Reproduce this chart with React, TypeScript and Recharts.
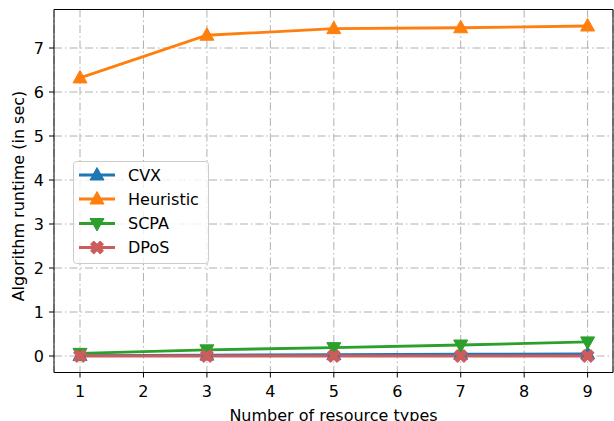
import React from 'react';
import { LineChart, Line, XAxis, YAxis, CartesianGrid, ReferenceArea } from 'recharts';

const resourceTypes = [1, 3, 5, 7, 9];
const cvx = [0.01, 0.02, 0.03, 0.04, 0.05];
const heuristic = [6.32, 7.29, 7.44, 7.46, 7.5];
const scpa = [0.06, 0.14, 0.19, 0.25, 0.32];
const dpos = [0.0, 0.0, 0.0, 0.0, 0.0];
const xTicks = [1, 2, 3, 4, 5, 6, 7, 8, 9];
const yTicks = [0, 1, 2, 3, 4, 5, 6, 7];

const series = [
  { key: 'cvx', name: 'CVX', color: '#1f77b4', marker: 'up', values: cvx },
  { key: 'heuristic', name: 'Heuristic', color: '#ff7f0e', marker: 'up', values: heuristic },
  { key: 'scpa', name: 'SCPA', color: '#2ca02c', marker: 'down', values: scpa },
  { key: 'dpos', name: 'DPoS', color: '#cd5c5c', marker: 'x', values: dpos },
];

const data = resourceTypes.map((x, i) => {
  const row: any = { x };
  series.forEach((s) => (row[s.key] = s.values[i]));
  return row;
});

const FONT = 'DejaVu Sans, sans-serif';
const FS = 16;

function markerShape(kind: string, cx: number, cy: number, color: string, k?: any) {
  if (cx == null || cy == null || isNaN(cx) || isNaN(cy)) return <g key={k} />;
  if (kind === 'up') {
    const pts = `${cx},${cy - 7.5} ${cx - 7},${cy + 5} ${cx + 7},${cy + 5}`;
    return <polygon key={k} points={pts} fill={color} stroke={color} strokeWidth={1} />;
  }
  if (kind === 'down') {
    const pts = `${cx},${cy + 7.5} ${cx - 7},${cy - 5} ${cx + 7},${cy - 5}`;
    return <polygon key={k} points={pts} fill={color} stroke={color} strokeWidth={1} />;
  }
  const a = 6, t = 2.8;
  const pts = [
    [-a, -a + t], [-a + t, -a], [0, -t], [a - t, -a], [a, -a + t], [t, 0],
    [a, a - t], [a - t, a], [0, t], [-a + t, a], [-a, a - t], [-t, 0],
  ].map(([px, py]) => `${cx + px},${cy + py}`).join(' ');
  return <polygon key={k} points={pts} fill={color} stroke={color} strokeWidth={1.5} strokeLinejoin="round" />;
}

function LegendBox() {
  const rows = [14, 38, 62.5, 86.5];
  return (
    <div style={{ position: 'absolute', left: 73, top: 161, width: 136, height: 103 }}>
      <svg width={136} height={103}>
        <rect x={0.5} y={0.5} width={135} height={102} rx={3} fill="rgba(255,255,255,0.8)" stroke="#cccccc" />
        {series.map((s, i) => (
          <g key={s.key}>
            <line x1={6} x2={42} y1={rows[i]} y2={rows[i]} stroke={s.color} strokeWidth={2.8} />
            {markerShape(s.marker, 24, rows[i], s.color)}
            <text x={55} y={rows[i]} dominantBaseline="central" fontFamily={FONT} fontSize={FS} fill="#000">
              {s.name}
            </text>
          </g>
        ))}
      </svg>
    </div>
  );
}

const XLabel = (props: any) => {
  const vb = props.viewBox || {};
  return (
    <text x={vb.x + vb.width / 2} y={vb.y + vb.height - 0.5} textAnchor="middle" fontFamily={FONT} fontSize={FS} fill="#000">
      Number of resource types
    </text>
  );
};

const YLabel = (props: any) => {
  const vb = props.viewBox || {};
  const cx = 24;
  const cy = vb.y + vb.height / 2 + 5;
  return (
    <text x={cx} y={cy} transform={`rotate(-90 ${cx} ${cy})`} textAnchor="middle" fontFamily={FONT} fontSize={FS} fill="#000">
      Algorithm runtime (in sec)
    </text>
  );
};

export default function App() {
  return (
    <div style={{ position: 'absolute', left: 0, top: 0, width: 614, height: 421, background: '#fff' }}>
      <LineChart width={614} height={421} data={data} margin={{ top: 9.5, right: 1, bottom: 0, left: 0 }}>
        <CartesianGrid stroke="#b0b0b0" strokeWidth={1} strokeDasharray="8 3 1.5 3" />
        <XAxis
          dataKey="x"
          type="number"
          domain={[0.59, 9.4]}
          ticks={xTicks}
          allowDataOverflow
          height={48.5}
          tickSize={5}
          tickMargin={8}
          stroke="#000"
          tick={{ fill: '#000', fontSize: FS, fontFamily: FONT }}
          axisLine={false}
          label={<XLabel />}
        />
        <YAxis
          type="number"
          domain={[-0.375, 7.875]}
          ticks={yTicks}
          allowDataOverflow
          width={54}
          tickSize={5}
          tickMargin={5}
          stroke="#000"
          tick={{ fill: '#000', fontSize: FS, fontFamily: FONT }}
          axisLine={false}
          label={<YLabel />}
        />
        <ReferenceArea x1={0.59} x2={9.4} y1={-0.375} y2={7.875} fill="none" stroke="#000" strokeWidth={1} ifOverflow="visible" />
        {series.map((s) => (
          <Line
            key={s.key}
            dataKey={s.key}
            name={s.name}
            stroke={s.color}
            strokeWidth={2.8}
            isAnimationActive={false}
            dot={(p: any) => markerShape(s.marker, p.cx, p.cy, s.color, `${s.key}-${p.index}`)}
            activeDot={false}
          />
        ))}
      </LineChart>
      <LegendBox />
    </div>
  );
}
